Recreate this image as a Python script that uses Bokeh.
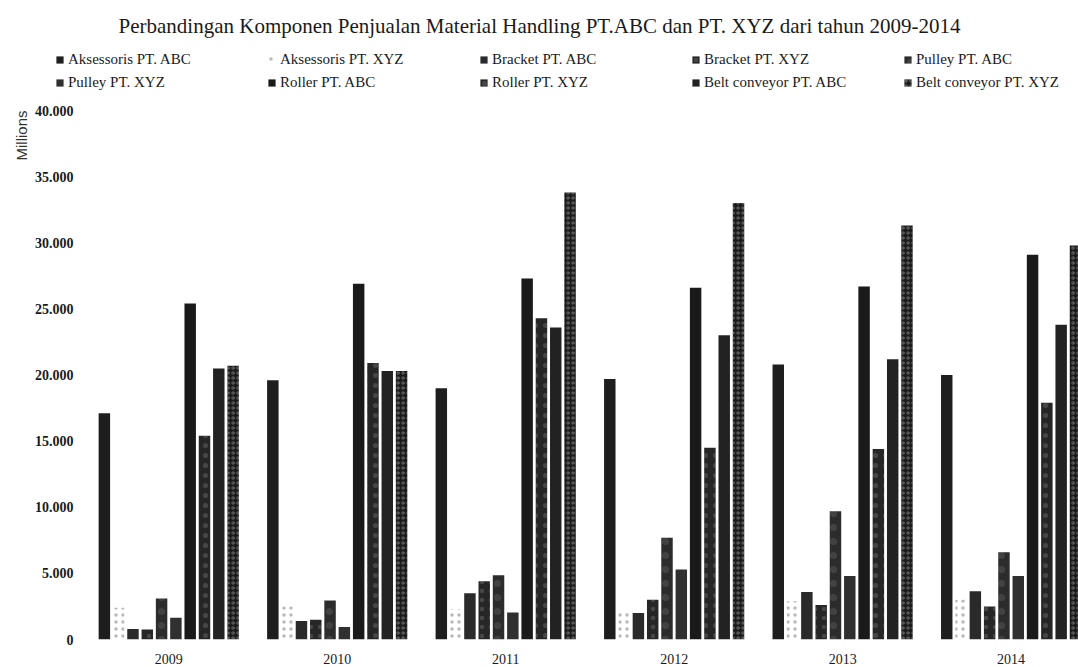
from bokeh.plotting import figure
from bokeh.layouts import column
from bokeh.models import (Range1d, FixedTicker, Legend, LegendItem, Title, Label, ColumnDataSource)
from bokeh.transform import dodge
from bokeh.embed import file_html
from bokeh.resources import INLINE

# ---- data (values in Millions) ----
years = ["2009", "2010", "2011", "2012", "2013", "2014"]
aksesoris_abc = [17100, 19600, 19000, 19700, 20800, 20000]
aksesoris_xyz = [2400, 2500, 2300, 2000, 2900, 3000]
bracket_abc = [800, 1400, 3500, 2000, 3600, 3650]
bracket_xyz = [750, 1500, 4400, 3000, 2600, 2500]
pulley_abc = [3100, 2950, 4850, 7700, 9700, 6600]
pulley_xyz = [1650, 950, 2050, 5300, 4800, 4800]
roller_abc = [25400, 26900, 27300, 26600, 26700, 29100]
roller_xyz = [15400, 20900, 24300, 14500, 14400, 17900]
belt_abc = [20500, 20300, 23600, 23000, 21200, 23800]
belt_xyz = [20700, 20300, 33800, 33000, 31300, 29800]

series_names = ["Aksessoris PT. ABC", "Aksessoris PT. XYZ", "Bracket PT. ABC", "Bracket PT. XYZ",
                "Pulley PT. ABC", "Pulley PT. XYZ", "Roller PT. ABC", "Roller PT. XYZ",
                "Belt conveyor PT. ABC", "Belt conveyor PT. XYZ"]
series_values = [aksesoris_abc, aksesoris_xyz, bracket_abc, bracket_xyz, pulley_abc,
                 pulley_xyz, roller_abc, roller_xyz, belt_abc, belt_xyz]
y_ticks = [0, 5000, 10000, 15000, 20000, 25000, 30000, 35000, 40000]
y_tick_labels = ["0", "5.000", "10.000", "15.000", "20.000", "25.000", "30.000", "35.000", "40.000"]
title_text = "Perbandingan Komponen Penjualan Material Handling PT.ABC dan PT. XYZ dari tahun 2009-2014"

# ---- styles ----
styles = [
    dict(fill_color="#1e1e1e"),
    dict(fill_color="#ffffff", fill_alpha=0.0, hatch_pattern="dot", hatch_color="#8a8a8a", hatch_scale=7, hatch_alpha=0.6),
    dict(fill_color="#2a2a2a"),
    dict(fill_color="#262626", hatch_pattern="dot", hatch_color="#ffffff", hatch_scale=9, hatch_alpha=0.15),
    dict(fill_color="#2c2c2c", hatch_pattern="dot", hatch_color="#ffffff", hatch_scale=14, hatch_alpha=0.1),
    dict(fill_color="#303030"),
    dict(fill_color="#1a1a1a"),
    dict(fill_color="#262626", hatch_pattern="dot", hatch_color="#ffffff", hatch_scale=10, hatch_alpha=0.15),
    dict(fill_color="#222222"),
    dict(fill_color="#1c1c1c", hatch_pattern="ring", hatch_color="#ffffff", hatch_scale=5, hatch_alpha=0.3),
]

W = 1078
TOP_H = 100
MAIN_H = 567

# ---------------- header figure: title + legend ----------------
hdr = figure(width=W, height=TOP_H, output_backend="svg", toolbar_location=None, title=None,
             x_range=Range1d(0, 1), y_range=Range1d(0, 1),
             x_axis_location=None, y_axis_location=None,
             min_border=0, min_border_left=0, min_border_right=0, min_border_top=0, min_border_bottom=0)
hdr.frame_align = False
hdr.outline_line_color = None
hdr.grid.visible = False
hdr.background_fill_color = "white"
hdr.border_fill_color = "white"

# legend-only renderers (zero-height, no visible mark)
items = []
for i, name in enumerate(series_names):
    r = hdr.vbar(x=[0.5], top=[0], bottom=[0], width=0.0, line_color=None, **styles[i])
    items.append(LegendItem(label=name, renderers=[r]))

legend = Legend(items=items, orientation="horizontal", ncols=5,
                location=(55, 9), glyph_width=9, glyph_height=9, label_standoff=4,
                label_width=193, label_height=14, spacing=6, padding=0, margin=0,
                label_text_font="Liberation Serif", label_text_font_size="15px",
                label_text_color="#1a1a1a", border_line_color=None, background_fill_alpha=0)
hdr.add_layout(legend, "center")

hdr.add_layout(Label(x=118, y=TOP_H - 25, x_units="screen", y_units="screen", text=title_text,
                     text_align="left", text_baseline="middle", text_font="Liberation Serif",
                     text_font_size="21px", text_color="#1a1a1a"))

# ---------------- main chart ----------------
p = figure(width=W, height=MAIN_H, output_backend="svg", toolbar_location=None, title=None,
           x_range=Range1d(-0.5, 5.4), y_range=Range1d(0, 40000),
           min_border_left=84, min_border_right=0, min_border_top=10, min_border_bottom=28)
p.frame_align = False
p.background_fill_color = "white"
p.border_fill_color = "white"
p.outline_line_color = None
p.grid.visible = False

src = ColumnDataSource(dict(idx=list(range(len(years))),
                            **{f"s{i}": v for i, v in enumerate(series_values)}))

pitch = 0.0849
bw = 0.068
for i, name in enumerate(series_names):
    off = (i - 4.5) * pitch
    p.vbar(x=dodge("idx", off), top=f"s{i}", width=bw, bottom=0, source=src,
           line_color=None, **styles[i])

# "Millions" display-unit label
p.add_layout(Title(text="Millions", align="right", text_font="Liberation Sans",
                   text_font_size="15px", text_font_style="normal", text_color="#333333",
                   standoff=4), "left")

# axes
p.xaxis.ticker = FixedTicker(ticks=list(range(len(years))))
p.xaxis.major_label_overrides = {i: y for i, y in enumerate(years)}
p.xaxis.axis_line_color = None
p.xaxis.major_tick_line_color = None
p.xaxis.minor_tick_line_color = None
p.xaxis.major_label_standoff = 8
p.xaxis.major_label_text_font = "Liberation Serif"
p.xaxis.major_label_text_font_size = "14px"
p.xaxis.major_label_text_color = "#1a1a1a"

p.yaxis.ticker = FixedTicker(ticks=y_ticks)
p.yaxis.major_label_overrides = {t: l for t, l in zip(y_ticks, y_tick_labels)}
p.yaxis.axis_line_color = None
p.yaxis.major_tick_line_color = None
p.yaxis.minor_tick_line_color = None
p.yaxis.major_label_standoff = 5
p.yaxis.major_label_text_font = "Liberation Serif"
p.yaxis.major_label_text_font_style = "bold"
p.yaxis.major_label_text_font_size = "14px"
p.yaxis.major_label_text_color = "#1a1a1a"

layout = column(hdr, p, spacing=0)
open("out.html", "w").write(file_html(layout, INLINE))
